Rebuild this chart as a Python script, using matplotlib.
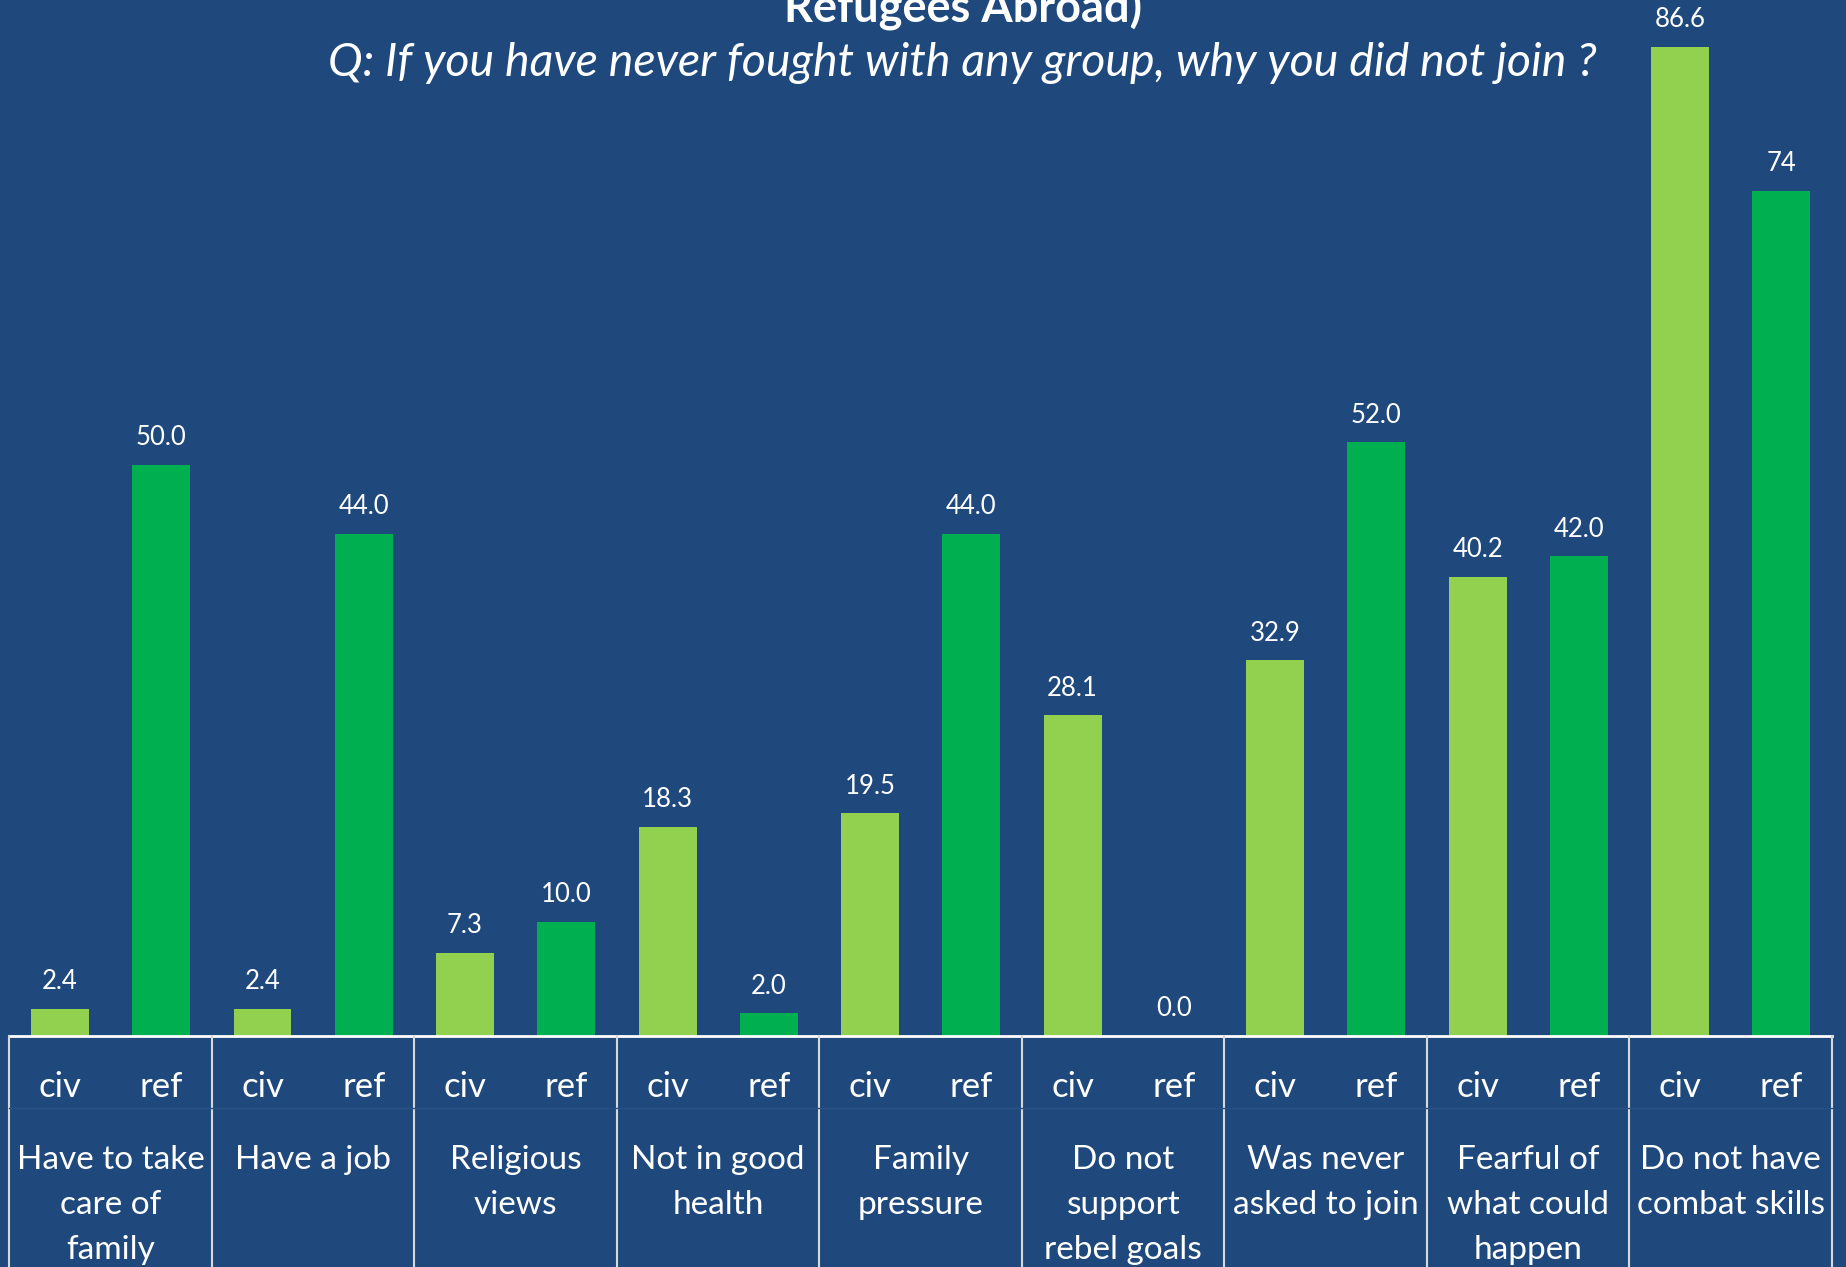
import matplotlib
matplotlib.use("Agg")
import matplotlib.pyplot as plt
from matplotlib.lines import Line2D
from matplotlib.transforms import blended_transform_factory

categories = ["Have to take\ncare of\nfamily", "Have a job", "Religious\nviews",
              "Not in good\nhealth", "Family\npressure", "Do not\nsupport\nrebel goals",
              "Was never\nasked to join", "Fearful of\nwhat could\nhappen",
              "Do not have\ncombat skills"]
civ = [2.4, 2.4, 7.3, 18.3, 19.5, 28.1, 32.9, 40.2, 86.6]
ref = [50.0, 44.0, 10.0, 2.0, 44.0, 0.0, 52.0, 42.0, 74]
civ_labels = ["2.4", "2.4", "7.3", "18.3", "19.5", "28.1", "32.9", "40.2", "86.6"]
ref_labels = ["50.0", "44.0", "10.0", "2.0", "44.0", "0.0", "52.0", "42.0", "74"]
series_names = ["civ", "ref"]
title = "Refugees Abroad)"
subtitle = "Q: If you have never fought with any group, why you did not join ?"

BG = "#1F497D"
C_CIV = "#92D050"
C_REF = "#00B050"
FONT = "Lato"

W, H = 1846, 1267
fig = plt.figure(figsize=(W / 100, H / 100), dpi=100, facecolor=BG)

def fy(py):
    return 1 - py / H

left_px, right_px, base_px = 9.4, 1832, 1036
ax = fig.add_axes([left_px / W, fy(base_px), (right_px - left_px) / W, base_px / H])
ax.set_facecolor(BG)
n = len(categories)
ax.set_xlim(-0.5, n - 0.5)
ax.set_ylim(0, base_px / 11.42)
for s in ["top", "left", "right"]:
    ax.spines[s].set_visible(False)
ax.spines["bottom"].set_color("white")
ax.spines["bottom"].set_linewidth(2)
ax.set_xticks([])
ax.set_yticks([])

xs = list(range(n))
bw = 0.286
ax.bar([x - 0.25 for x in xs], civ, width=bw, color=C_CIV)
ax.bar([x + 0.25 for x in xs], ref, width=bw, color=C_REF)

for x, v, lab in zip(xs, civ, civ_labels):
    ax.annotate(lab, (x - 0.25, v), xytext=(0, 19.5), textcoords="offset points",
                ha="center", va="center", color="white", fontsize=18.5, family=FONT)
for x, v, lab in zip(xs, ref, ref_labels):
    ax.annotate(lab, (x + 0.25, v), xytext=(0, 19.5), textcoords="offset points",
                ha="center", va="center", color="white", fontsize=18.5, family=FONT)

tr = blended_transform_factory(ax.transData, fig.transFigure)
# table lines
for b in range(n + 1):
    xb = b - 0.5
    fig.add_artist(Line2D([xb, xb], [0, fy(base_px)], transform=tr,
                          color="#D9D9D9", lw=1.5, clip_on=False))
fig.add_artist(Line2D([left_px / W, right_px / W], [fy(1108), fy(1108)],
                      transform=fig.transFigure, color="#2A5185", lw=1))

for x in xs:
    ax.text(x - 0.25, fy(1087), series_names[0], transform=tr, ha="center", va="center",
            color="white", fontsize=25, family=FONT)
    ax.text(x + 0.25, fy(1087), series_names[1], transform=tr, ha="center", va="center",
            color="white", fontsize=25, family=FONT)
    for k, line in enumerate(categories[x].split("\n")):
        ax.text(x, fy(1160 + 45 * k), line, transform=tr, ha="center", va="center",
                color="white", fontsize=24, family=FONT)

fig.text(963 / W, fy(22), title, ha="center", va="baseline", color="white",
         fontsize=32.5, fontweight="bold", family=FONT)
fig.text(962 / W, fy(76), subtitle, ha="center", va="baseline", color="white",
         fontsize=33.5, fontstyle="italic", family=FONT)

fig.savefig("out.png", dpi=100, facecolor=BG)
